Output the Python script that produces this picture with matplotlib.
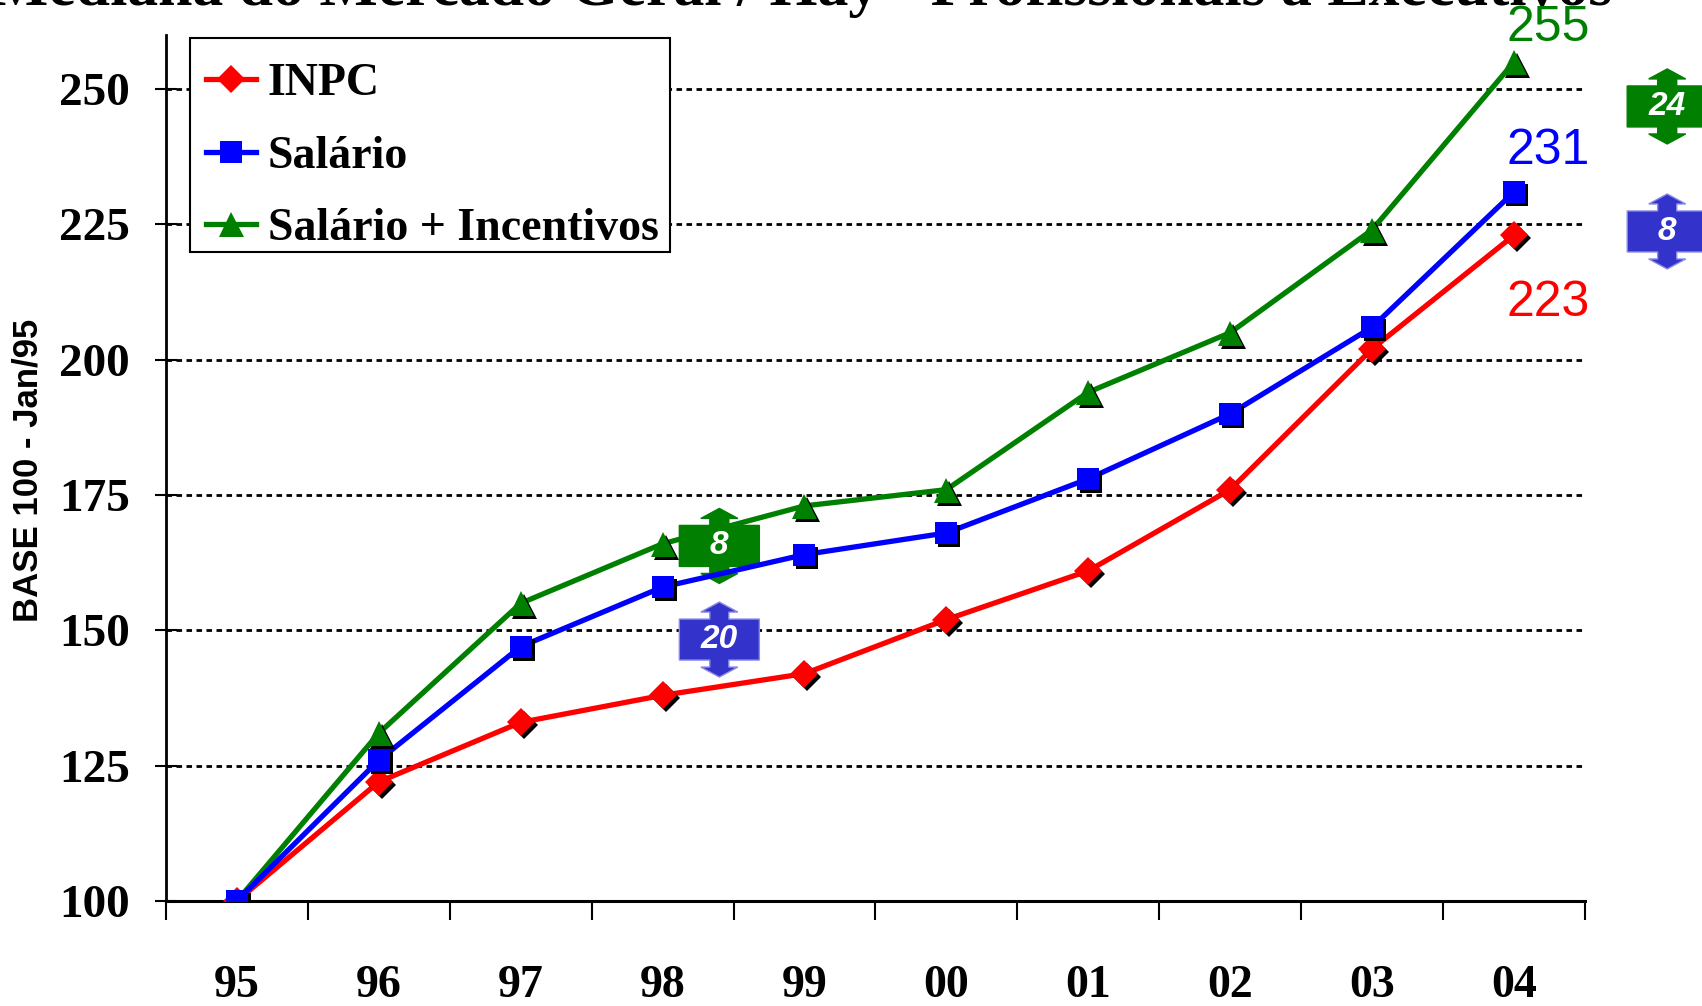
import matplotlib
matplotlib.use("Agg")
import matplotlib.pyplot as plt
import matplotlib.transforms as mtransforms
from matplotlib.patches import Polygon, Rectangle
from matplotlib.lines import Line2D

# ---- data -------------------------------------------------------------
years = ["95", "96", "97", "98", "99", "00", "01", "02", "03", "04"]
inpc = [100, 122, 133, 138, 142, 152, 161, 176, 202, 223]
salario = [100, 126, 147, 158, 164, 168, 178, 190, 206, 231]
salario_inc = [100, 131, 155, 166, 173, 176, 194, 205, 224, 255]
y_ticks = [100, 125, 150, 175, 200, 225, 250]

title = "Mediana do Mercado Geral / Hay - Profissionais a Executivos"
y_label = "BASE 100 - Jan/95"

RED = "#FF0000"
BLUE = "#0000FF"
GREEN = "#008000"
BADGE_GREEN = "#007F00"
BADGE_BLUE = "#3333CC"

SERIF = "Liberation Serif"
SANS = "Liberation Sans"

DPI = 100
fig = plt.figure(figsize=(17.02, 10.06), dpi=DPI)
ax = fig.add_axes([0.0975, 0.1044, 0.8337, 0.8608])

x = [i + 0.5 for i in range(len(years))]

ax.set_xlim(0, len(years))
ax.set_ylim(100, 260)

# horizontal dotted guides
for v in y_ticks[1:]:
    ax.axhline(v, color="black", lw=2.0, dashes=(2.0, 1.6), zorder=1)

shadow = ax.transData + mtransforms.ScaledTranslation(3 / DPI, -3 / DPI, fig.dpi_scale_trans)

LW = 3.8
series = [
    (inpc, RED, "D", 14, "INPC", 3.0),
    (salario_inc, GREEN, "^", 18, "Salário + Incentivos", 3.2),
    (salario, BLUE, "s", 15.5, "Salário", 4.0),
]
for vals, col, mk, ms, lab, z in series:
    ax.plot(x, vals, color=col, lw=LW, zorder=z, solid_capstyle="butt")
    ax.plot(x, vals, ls="none", marker=mk, ms=ms, color="black", mew=0,
            transform=shadow, zorder=z + 2)
    ax.plot(x, vals, ls="none", marker=mk, ms=ms, color=col, mew=0, zorder=z + 2.1)

# end-of-series value labels
last = len(years) - 1
for vals, col, dy in [(salario_inc, GREEN, 6.3), (salario, BLUE, 7.5), (inpc, RED, -12.6)]:
    ax.text(x[last] + 0.24, vals[last] + dy, f"{vals[last]}", color=col,
            fontsize=36, family=SANS, ha="center", va="center",
            clip_on=False, zorder=10)

# double-headed arrow badges showing the gaps between series
def badge(xc, yc, value, color, z):
    bw, bh, sw, hw, hb, tip = 40, 20.5, 9.5, 18.5, 27.5, 37.5
    half = [(0, tip), (hw, hb), (sw, hb), (sw, bh), (bw, bh),
            (bw, -bh), (sw, -bh), (sw, -hb), (hw, -hb), (0, -tip),
            (-hw, -hb), (-sw, -hb), (-sw, -bh), (-bw, -bh),
            (-bw, bh), (-sw, bh), (-sw, hb), (-hw, hb)]
    verts = [(px / DPI, py / DPI) for px, py in half]
    tr = fig.dpi_scale_trans + mtransforms.ScaledTranslation(xc, yc, ax.transData)
    edge = "#8A8AE6" if color == BADGE_BLUE else color
    ax.add_patch(Polygon(verts, closed=True, transform=tr, facecolor=color,
                         edgecolor=edge, lw=1.0, clip_on=False, zorder=z))
    ax.text(xc, yc, f"{value}", color="white", fontsize=24, fontweight="bold",
            style="italic", family=SANS, ha="center", va="center",
            clip_on=False, zorder=z + 0.01)

i98 = years.index("98")
badge(3.9, 165.6, salario_inc[i98] - salario[i98], BADGE_GREEN, 3.5)
badge(3.9, 148.3, salario[i98] - inpc[i98], BADGE_BLUE, 3.5)
badge(10.58, 246.8, salario_inc[last] - salario[last], BADGE_GREEN, 3.5)
badge(10.58, 223.7, salario[last] - inpc[last], BADGE_BLUE, 3.5)

# axes styling
for s in ["top", "right"]:
    ax.spines[s].set_visible(False)
ax.spines["left"].set_linewidth(2)
ax.spines["bottom"].set_linewidth(2.2)

ax.set_yticks(y_ticks)
ax.set_yticklabels([str(v) for v in y_ticks], fontsize=34, family=SERIF, fontweight="bold")
ax.tick_params(axis="y", direction="inout", length=16, width=1.5, pad=18)

ax.set_xticks(range(len(years) + 1))
ax.set_xticklabels([])
ax.tick_params(axis="x", which="major", direction="out", length=14, width=1.5)
ax.set_xticks(x, minor=True)
ax.set_xticklabels(years, minor=True, fontsize=33, family=SERIF, fontweight="bold")
ax.tick_params(axis="x", which="minor", length=0, pad=46)

fig.text(0.0166, 1 - 470 / 1006, y_label, rotation=90, fontsize=25,
         fontweight="bold", family=SANS, ha="center", va="center")

fig.text(-0.006, 1 - 5 / 1006, title, fontsize=44.5, fontweight="bold", family=SERIF,
         ha="left", va="baseline")

# legend: entries without frame, box drawn separately
ax.add_patch(Rectangle((0.0169, 0.7494), 0.3383, 0.2471, transform=ax.transAxes,
                       facecolor="white", edgecolor="black", lw=1.5,
                       clip_on=False, zorder=19))
handles = [
    Line2D([], [], color=RED, lw=LW, marker="D", ms=14, mew=0),
    Line2D([], [], color=BLUE, lw=LW, marker="s", ms=15.5, mew=0),
    Line2D([], [], color=GREEN, lw=LW, marker="^", ms=18, mew=0),
]
leg = ax.legend(handles, ["INPC", "Salário", "Salário + Incentivos"],
                loc="upper left", bbox_to_anchor=(0.0282, 0.9677), borderaxespad=0,
                prop={"family": SERIF, "weight": "bold", "size": 33},
                frameon=False, handlelength=1.1, handletextpad=0.25,
                labelspacing=0.665, borderpad=0)
leg.set_zorder(20)

fig.savefig("out.png", dpi=DPI)
